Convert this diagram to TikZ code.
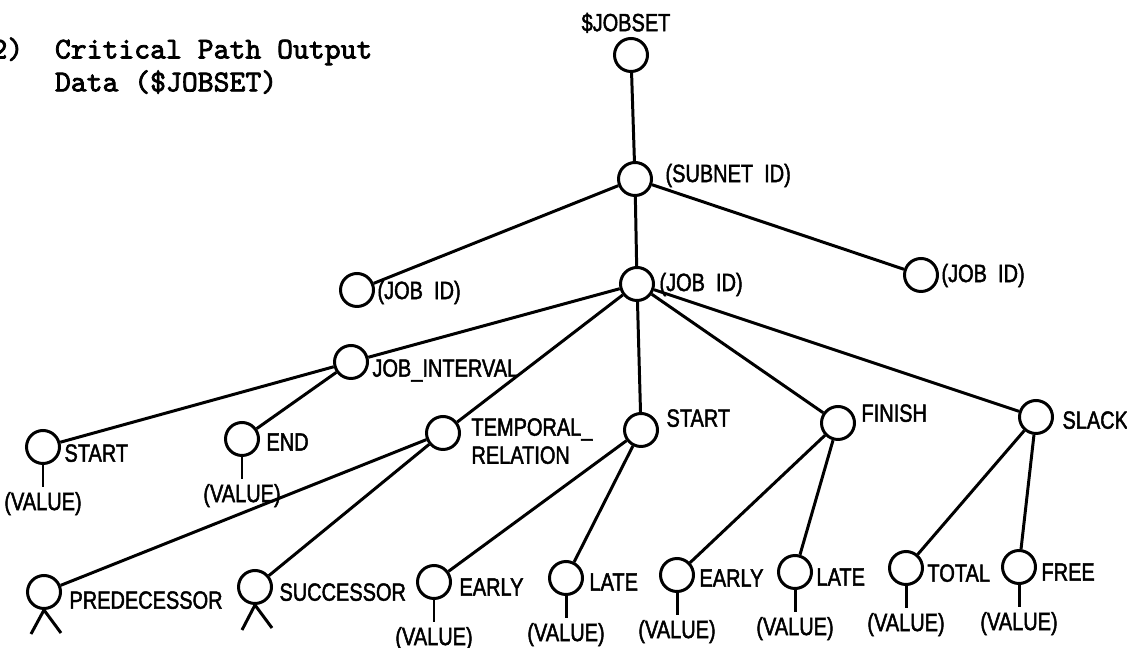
\documentclass[tikz,border=0pt]{standalone}
\usepackage{fontspec}
\usetikzlibrary{positioning}
\newfontfamily\lblfont[FakeStretch=0.8,FakeBold=1.8]{Liberation Sans}
\newfontfamily\titlefont{lmmono10-regular}[Extension=.otf,FakeBold=2.5]
\begin{document}
\begin{tikzpicture}[x=0.2mm, y=-0.2mm, line width=1.7pt,
  every node/.style={font=\lblfont\fontsize{14.2}{16}\selectfont},
  dot/.style={draw,circle,minimum size=0.66cm,inner sep=0pt},
  lbl/.style={anchor=west,inner sep=0pt,text depth=0pt},
  val/.style={inner sep=2pt,text depth=0pt,below=0.44cm of #1}]
\useasboundingbox (0,0) rectangle (1127,648);
\node[font=\titlefont\fontsize{17.2}{18.7}\selectfont,anchor=north west,inner sep=0pt,align=left] (title) at (-10,36) {2)\ \ Critical Path Output\\\hphantom{2)\ \ }Data (\$JOBSET)};
\node[dot] (js) at (631,55) {};
\node[dot] (subnet) at (635,179) {};
\node[dot] (jobL) at (357,290) {};
\node[dot] (job) at (637,284) {};
\node[dot] (jobR) at (921,275) {};
\node[dot] (intv) at (351,362) {};
\node[dot] (iStart) at (43,447) {};
\node[dot] (iEnd) at (242,439) {};
\node[dot] (temp) at (443,433) {};
\node[dot] (pred) at (44,592) {};
\node[dot] (succ) at (255,587) {};
\node[dot] (start) at (641,430) {};
\node[dot] (sEarly) at (434,582) {};
\node[dot] (sLate) at (566,578) {};
\node[dot] (finish) at (838,423) {};
\node[dot] (fEarly) at (677,575) {};
\node[dot] (fLate) at (795,572) {};
\node[dot] (slack) at (1036,417) {};
\node[dot] (total) at (906,568) {};
\node[dot] (free) at (1019,567) {};
\node[inner sep=0pt,text depth=0pt] (jsT) at (626,22) {\$JOBSET};
\node[lbl] (subnetT) at (664,173) {(SUBNET\ \ ID)};
\node[lbl] (jobLT) at (376,290) {(JOB\ \ ID)};
\node[lbl] (jobT) at (658,282) {(JOB\ \ ID)};
\node[lbl] (jobRT) at (940,273) {(JOB\ \ ID)};
\node[lbl] (intvT) at (371,368) {JOB\_INTERVAL};
\node[lbl] (iStartT) at (63,453) {START};
\node[lbl] (iEndT) at (265,442) {END};
\node[lbl,align=left] (tempT) at (470,441) {TEMPORAL\_\\RELATION};
\node[lbl] (predT) at (68,600) {PREDECESSOR};
\node[lbl] (succT) at (278,592) {SUCCESSOR};
\node[lbl] (startT) at (665,418) {START};
\node[lbl] (sEarlyT) at (458,587) {EARLY};
\node[lbl] (sLateT) at (588,582) {LATE};
\node[lbl] (finishT) at (860,413) {FINISH};
\node[lbl] (fEarlyT) at (698,578) {EARLY};
\node[lbl] (fLateT) at (815,577) {LATE};
\node[lbl] (slackT) at (1061,420) {SLACK};
\node[lbl] (totalT) at (926,573) {TOTAL};
\node[lbl] (freeT) at (1040,572) {FREE};
\node[val=iStart] (iStartV) {(VALUE)};
\node[val=iEnd] (iEndV) {(VALUE)};
\node[val=sEarly] (sEarlyV) {(VALUE)};
\node[val=sLate] (sLateV) {(VALUE)};
\node[val=fEarly] (fEarlyV) {(VALUE)};
\node[val=fLate] (fLateV) {(VALUE)};
\node[val=total] (totalV) {(VALUE)};
\node[val=free] (freeV) {(VALUE)};
\coordinate (predA) at (31,634);
\coordinate (predB) at (61,633);
\coordinate (succA) at (242,630);
\coordinate (succB) at (272,628);
\draw (js) -- (subnet);
\draw (subnet) -- (jobL);
\draw (subnet) -- (job);
\draw (subnet) -- (jobR);
\draw (job) -- (intv);
\draw (job) -- (temp);
\draw (job) -- (start);
\draw (job) -- (finish);
\draw (job) -- (slack);
\draw (intv) -- (iStart);
\draw (intv) -- (iEnd);
\draw (temp) -- (pred);
\draw (temp) -- (succ);
\draw (start) -- (sEarly);
\draw (start) -- (sLate);
\draw (finish) -- (fEarly);
\draw (finish) -- (fLate);
\draw (slack) -- (total);
\draw (slack) -- (free);
\draw (iStart) -- (iStartV);
\draw (iEnd) -- (iEndV);
\draw (sEarly) -- (sEarlyV);
\draw (sLate) -- (sLateV);
\draw (fEarly) -- (fEarlyV);
\draw (fLate) -- (fLateV);
\draw (total) -- (totalV);
\draw (free) -- (freeV);
\draw (predA) -- (pred.south) -- (predB);
\draw (succA) -- (succ.south) -- (succB);
\end{tikzpicture}
\end{document}
